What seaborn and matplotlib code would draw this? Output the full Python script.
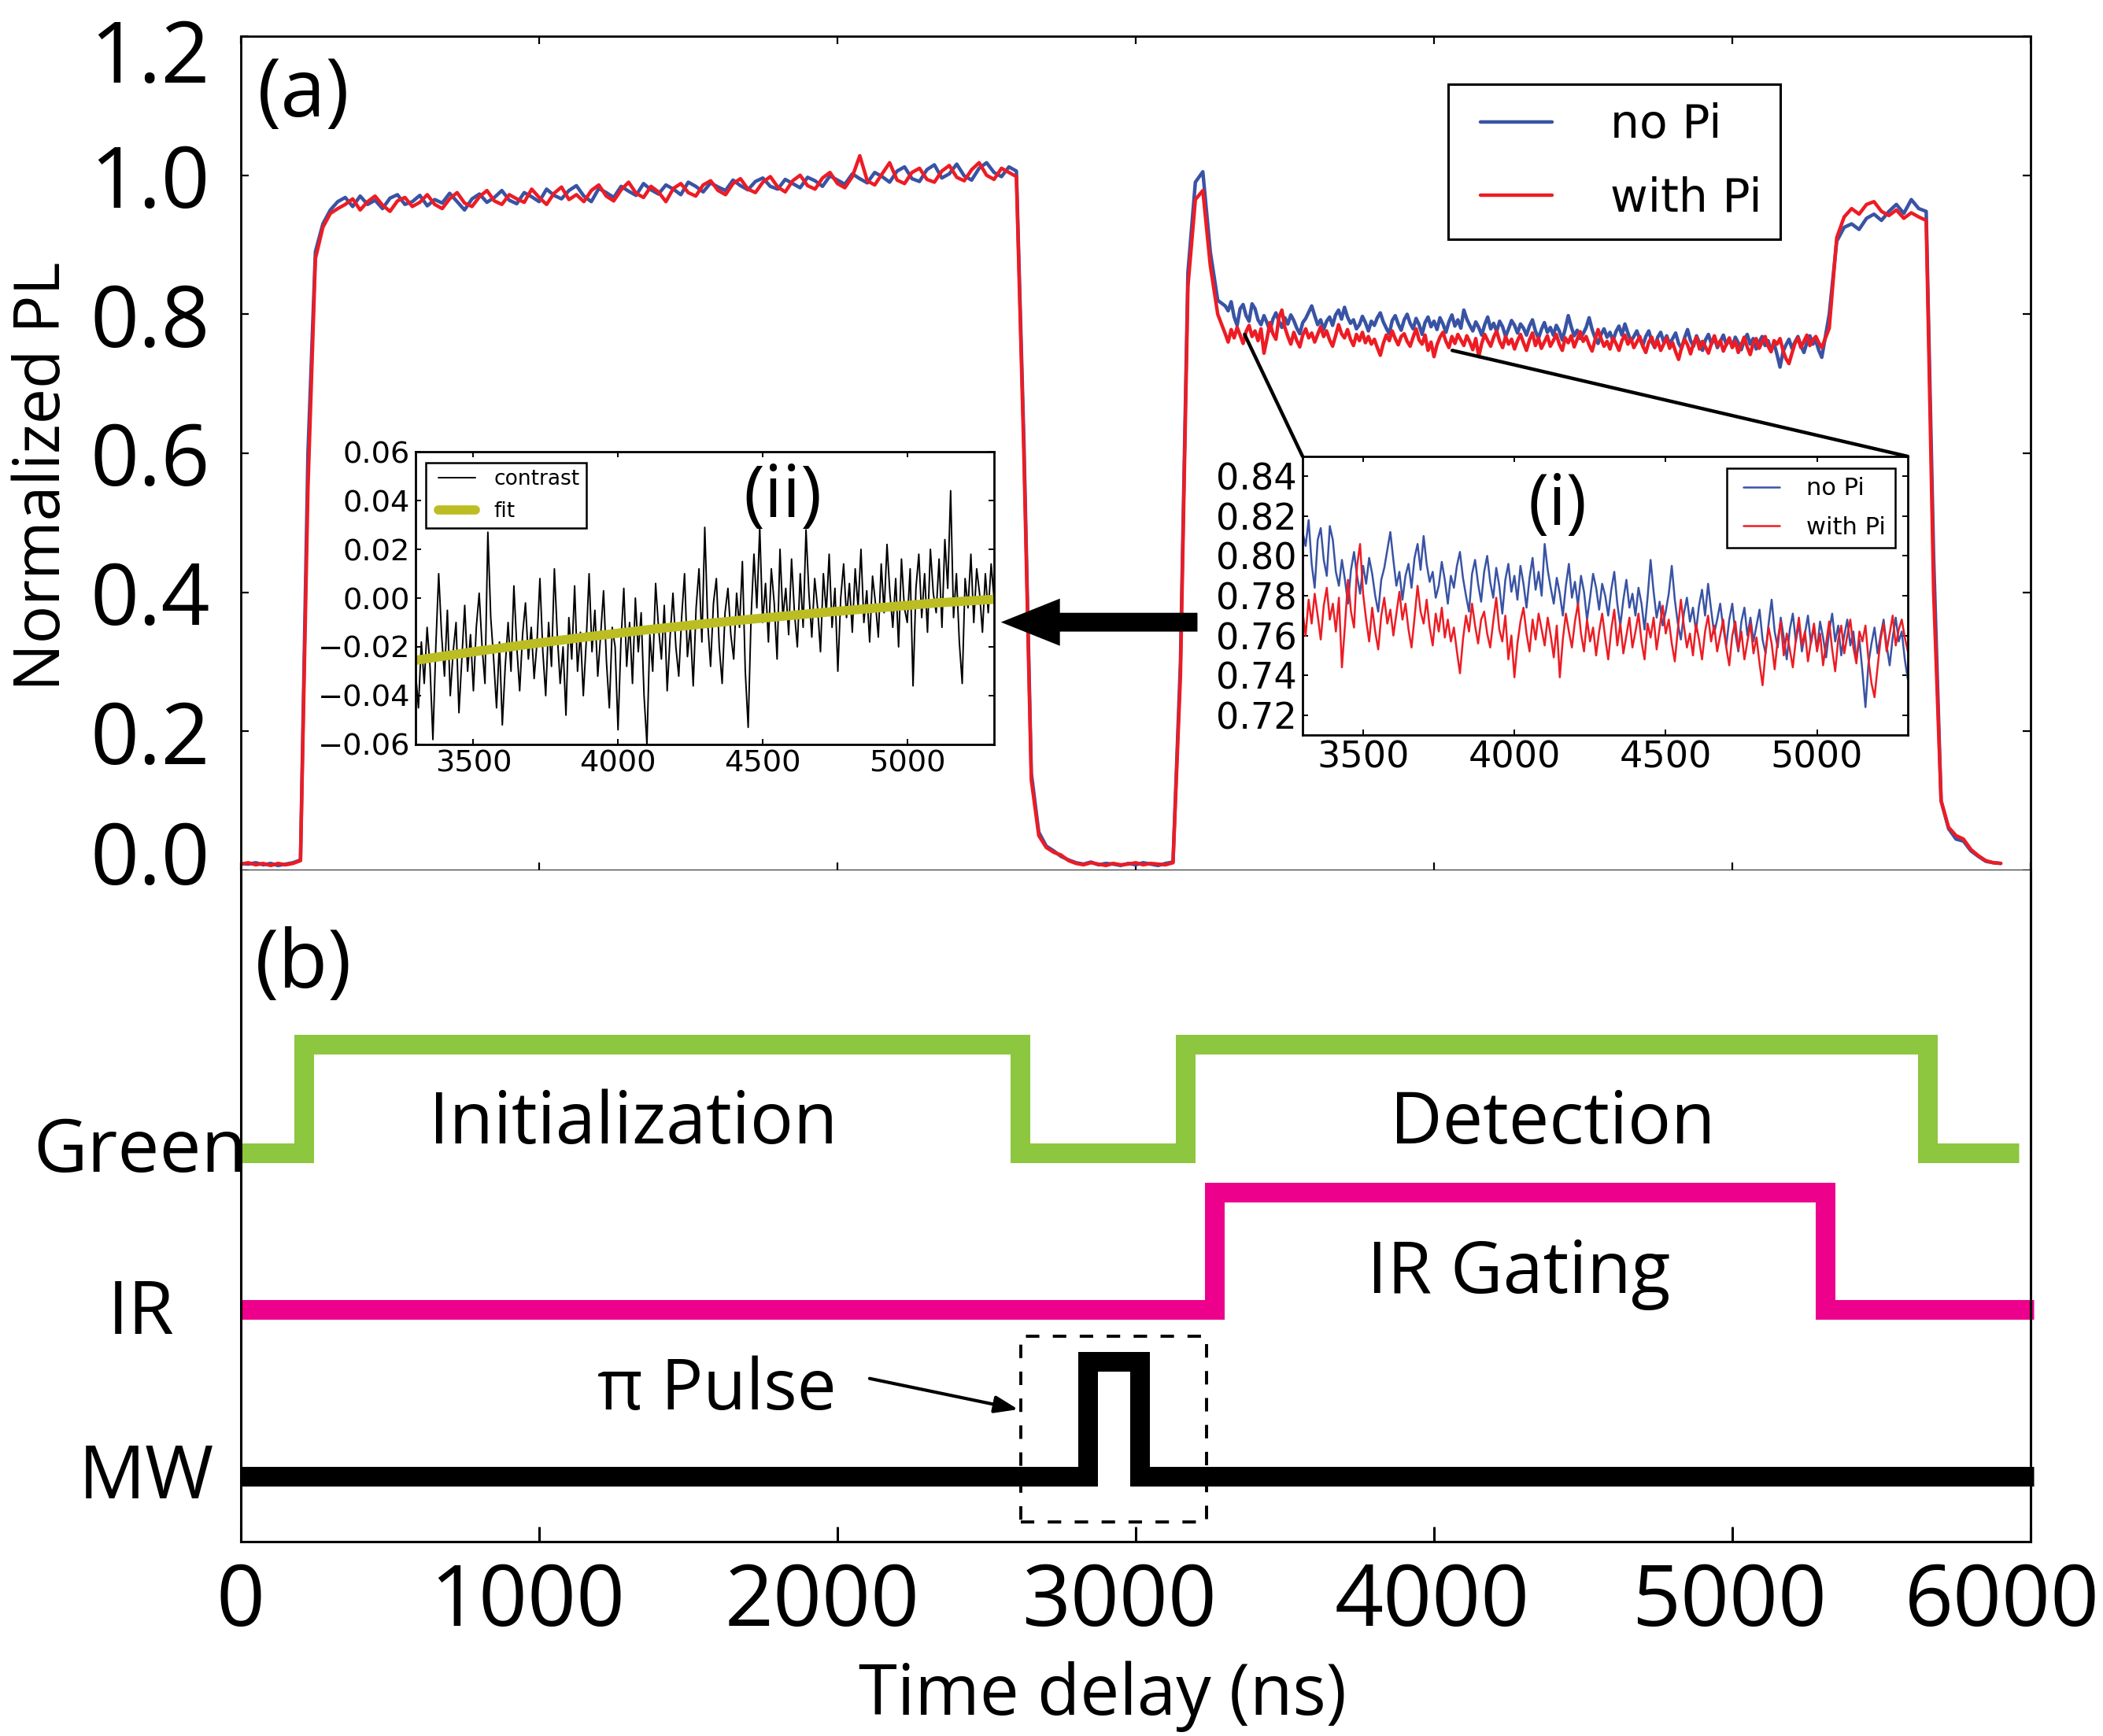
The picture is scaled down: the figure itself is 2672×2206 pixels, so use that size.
import numpy as np
import matplotlib
matplotlib.use("Agg")
import matplotlib.pyplot as plt
import matplotlib.transforms as mtransforms
from matplotlib.patches import Rectangle, ConnectionPatch
import seaborn as sns

# ---------------- data ----------------
# (a) PL traces, part 1: 0..3275 ns every 25 ns
t_start = np.arange(0, 3300, 25)
no_pi_start = [
    0.010, 0.009, 0.011, 0.008, 0.010, 0.007, 0.009, 0.011, 0.015,
    0.60, 0.89, 0.93,
    0.950, 0.962, 0.968, 0.955, 0.970, 0.958, 0.964, 0.952, 0.967, 0.972,
    0.958, 0.962, 0.971, 0.956, 0.965, 0.960, 0.974, 0.962, 0.950, 0.966,
    0.973, 0.961, 0.968, 0.978, 0.964, 0.959, 0.975, 0.969, 0.962, 0.980,
    0.971, 0.966, 0.978, 0.985, 0.970, 0.962, 0.981, 0.975, 0.968, 0.984,
    0.977, 0.971, 0.988, 0.979, 0.973, 0.986, 0.980, 0.972, 0.990, 0.984,
    0.976, 0.989, 0.983, 0.978, 0.993, 0.985, 0.979, 0.991, 0.996, 0.984,
    0.980, 0.994, 0.988, 0.982, 0.997, 0.992, 0.984, 0.999, 0.993, 0.987,
    1.002, 0.995, 0.989, 1.004, 0.998, 0.990, 1.006, 1.012, 0.995, 0.991,
    1.008, 1.015, 0.996, 1.002, 1.016, 0.999, 0.993, 1.010, 1.018, 1.004,
    0.998, 1.012, 1.006,
    0.62, 0.14, 0.055, 0.035, 0.028, 0.020, 0.015,
    0.011, 0.009, 0.012, 0.008, 0.010, 0.009, 0.007, 0.010, 0.008, 0.011,
    0.009, 0.007, 0.010, 0.012,
    0.30, 0.86, 0.99, 1.005, 0.89, 0.82,
]
with_pi_start = [
    0.009, 0.011, 0.008, 0.010, 0.007, 0.010, 0.008, 0.010, 0.014,
    0.55, 0.88, 0.925,
    0.945, 0.952, 0.958, 0.966, 0.950, 0.962, 0.970, 0.957, 0.948, 0.963,
    0.968, 0.955, 0.961, 0.972, 0.958, 0.952, 0.966, 0.975, 0.960, 0.955,
    0.969, 0.978, 0.963, 0.958, 0.972, 0.966, 0.961, 0.980, 0.968, 0.958,
    0.974, 0.983, 0.965, 0.972, 0.962, 0.978, 0.986, 0.970, 0.963, 0.979,
    0.990, 0.974, 0.968, 0.984, 0.976, 0.962, 0.981, 0.988, 0.975, 0.970,
    0.986, 0.992, 0.978, 0.972, 0.988, 0.995, 0.980, 0.975, 0.990, 0.998,
    0.983, 0.976, 0.992, 1.000, 0.985, 0.980, 0.996, 1.004, 0.988, 0.982,
    0.998, 1.028, 0.992, 0.986, 1.002, 1.018, 0.993, 0.988, 1.004, 1.010,
    0.994, 0.990, 1.006, 1.014, 0.997, 0.992, 1.008, 1.018, 1.000, 0.994,
    1.010, 1.004, 0.998,
    0.60, 0.13, 0.050, 0.033, 0.026, 0.022, 0.014,
    0.010, 0.008, 0.011, 0.009, 0.007, 0.010, 0.008, 0.009, 0.011, 0.008,
    0.010, 0.009, 0.008, 0.011,
    0.28, 0.84, 0.965, 0.978, 0.87, 0.80,
]

# detection window 3300..5300 ns every 10 ns (also shown in inset (i))
t_window = np.arange(3300, 5301, 10)
no_pi_window = [
    0.812, 0.805, 0.818, 0.796, 0.784, 0.808, 0.814, 0.798, 0.790, 0.815,
    0.808, 0.792, 0.785, 0.798, 0.788, 0.776, 0.793, 0.802, 0.790, 0.781,
    0.795, 0.786, 0.799, 0.791, 0.780, 0.772, 0.788, 0.794, 0.803, 0.812,
    0.798, 0.785, 0.792, 0.778, 0.790, 0.796, 0.784, 0.799, 0.806, 0.793,
    0.810, 0.796, 0.787, 0.792, 0.779, 0.785, 0.797, 0.788, 0.776, 0.790,
    0.784, 0.795, 0.802, 0.789, 0.780, 0.772, 0.791, 0.798, 0.786, 0.777,
    0.792, 0.800, 0.787, 0.779, 0.794, 0.785, 0.771, 0.788, 0.796, 0.782,
    0.790, 0.778, 0.795, 0.786, 0.774, 0.789, 0.799, 0.783, 0.792, 0.780,
    0.806, 0.793, 0.784, 0.776, 0.789, 0.781, 0.770, 0.785, 0.796, 0.779,
    0.787, 0.775, 0.790, 0.782, 0.768, 0.779, 0.791, 0.784, 0.773, 0.786,
    0.780, 0.770, 0.783, 0.792, 0.776, 0.765, 0.778, 0.788, 0.774, 0.781,
    0.770, 0.784, 0.776, 0.763, 0.779, 0.798, 0.782, 0.769, 0.777, 0.765,
    0.772, 0.781, 0.795, 0.778, 0.766, 0.758, 0.771, 0.779, 0.767, 0.774,
    0.762, 0.775, 0.783, 0.770, 0.786, 0.773, 0.761, 0.768, 0.776, 0.764,
    0.755, 0.768, 0.776, 0.761, 0.752, 0.767, 0.774, 0.760, 0.769, 0.757,
    0.765, 0.773, 0.758, 0.751, 0.766, 0.778, 0.762, 0.754, 0.769, 0.759,
    0.748, 0.763, 0.771, 0.757, 0.766, 0.752, 0.761, 0.770, 0.756, 0.764,
    0.753, 0.767, 0.759, 0.749, 0.762, 0.771, 0.757, 0.765, 0.750, 0.760,
    0.768, 0.755, 0.762, 0.748, 0.758, 0.742, 0.724, 0.746, 0.756, 0.764,
    0.751, 0.760, 0.768, 0.755, 0.745, 0.759, 0.769, 0.757, 0.762, 0.748,
    0.738,
]
with_pi_window = [
    0.772, 0.760, 0.778, 0.766, 0.781, 0.770, 0.758, 0.775, 0.784, 0.768,
    0.776, 0.762, 0.779, 0.744, 0.765, 0.788, 0.772, 0.764, 0.795, 0.806,
    0.781, 0.768, 0.757, 0.774, 0.762, 0.753, 0.770, 0.779, 0.766, 0.773,
    0.760, 0.771, 0.782, 0.768, 0.776, 0.763, 0.754, 0.769, 0.785, 0.772,
    0.766, 0.778, 0.764, 0.755, 0.771, 0.762, 0.774, 0.759, 0.768, 0.757,
    0.764, 0.752, 0.741, 0.758, 0.770, 0.762, 0.776, 0.765, 0.756, 0.768,
    0.772, 0.761, 0.754, 0.767, 0.779, 0.763, 0.757, 0.770, 0.748, 0.760,
    0.739, 0.756, 0.767, 0.774, 0.761, 0.752, 0.768, 0.758, 0.771, 0.763,
    0.755, 0.769, 0.760, 0.749, 0.765, 0.739, 0.758, 0.771, 0.762, 0.754,
    0.767, 0.776, 0.761, 0.752, 0.768, 0.757, 0.764, 0.750, 0.762, 0.771,
    0.759, 0.748, 0.763, 0.773, 0.755, 0.766, 0.751, 0.760, 0.769, 0.754,
    0.762, 0.771, 0.757, 0.748, 0.766, 0.759, 0.769, 0.753, 0.764, 0.775,
    0.761, 0.768, 0.756, 0.747, 0.763, 0.778, 0.765, 0.754, 0.761, 0.750,
    0.766, 0.758, 0.748, 0.762, 0.770, 0.757, 0.765, 0.752, 0.760, 0.768,
    0.754, 0.745, 0.760, 0.767, 0.753, 0.762, 0.748, 0.757, 0.766, 0.751,
    0.759, 0.746, 0.735, 0.752, 0.764, 0.756, 0.743, 0.758, 0.767, 0.750,
    0.761, 0.753, 0.744, 0.758, 0.769, 0.755, 0.762, 0.747, 0.757, 0.766,
    0.752, 0.761, 0.745, 0.756, 0.767, 0.753, 0.742, 0.758, 0.765, 0.751,
    0.760, 0.768, 0.754, 0.746, 0.762, 0.757, 0.765, 0.748, 0.736, 0.729,
    0.744, 0.758, 0.766, 0.752, 0.761, 0.770, 0.755, 0.763, 0.768, 0.759,
    0.752,
]

# part 3: 5325..5900 ns every 25 ns
t_end = np.arange(5325, 5901, 25)
no_pi_end = [0.80, 0.905, 0.925, 0.930, 0.922, 0.938, 0.944, 0.935, 0.948, 0.958,
             0.945, 0.965, 0.952, 0.948, 0.45, 0.10, 0.060, 0.045, 0.042, 0.028,
             0.020, 0.013, 0.011, 0.010]
with_pi_end = [0.78, 0.91, 0.94, 0.952, 0.944, 0.958, 0.962, 0.948, 0.942, 0.950,
               0.938, 0.946, 0.940, 0.935, 0.40, 0.10, 0.062, 0.050, 0.045, 0.030,
               0.021, 0.014, 0.011, 0.010]

# inset (ii): contrast and fit over the detection window
contrast = [
    -0.030, -0.045, -0.018, -0.035, -0.012, -0.028, -0.058, -0.020, 0.010, -0.015,
    -0.032, -0.005, -0.040, -0.022, -0.010, -0.047, -0.025, -0.003, -0.030, -0.015,
    -0.038, -0.012, 0.002, -0.020, -0.035, 0.027, -0.008, -0.025, -0.045, -0.018,
    -0.052, -0.028, -0.010, -0.030, 0.005, -0.020, -0.038, -0.015, -0.002, -0.025,
    -0.012, -0.033, -0.018, 0.008, -0.022, -0.040, -0.010, -0.028, 0.012, -0.015,
    -0.035, -0.020, -0.048, -0.008, -0.025, 0.005, -0.030, -0.014, -0.040, -0.018,
    0.010, -0.022, -0.005, -0.032, -0.015, 0.003, -0.026, -0.045, -0.012, -0.020,
    -0.054, -0.018, 0.004, -0.028, -0.010, -0.035, 0.000, -0.022, -0.006, -0.040,
    -0.060, -0.015, -0.030, 0.006, -0.012, -0.025, -0.003, -0.038, -0.016, 0.002,
    -0.020, -0.032, -0.008, 0.010, -0.024, -0.012, -0.036, -0.004, 0.012, -0.018,
    0.029, -0.010, -0.028, -0.002, 0.008, -0.020, -0.035, -0.006, 0.004, -0.015,
    -0.025, 0.002, -0.012, 0.015, -0.030, -0.053, -0.008, 0.018, -0.004, 0.029,
    -0.010, 0.006, -0.018, 0.012, -0.002, -0.025, 0.020, -0.008, 0.004, -0.015,
    0.016, -0.006, -0.020, 0.010, -0.012, 0.028, 0.002, -0.016, 0.008, -0.004,
    -0.022, 0.010, -0.006, 0.018, -0.012, 0.004, -0.030, 0.000, 0.014, -0.008,
    0.006, -0.014, 0.012, -0.004, 0.020, -0.010, 0.003, -0.018, 0.009, -0.002,
    -0.016, 0.014, -0.006, 0.022, 0.002, -0.012, 0.008, -0.020, 0.016, -0.004,
    -0.010, 0.012, -0.036, 0.004, 0.018, -0.008, 0.010, -0.014, 0.020, 0.002,
    -0.006, 0.016, -0.012, 0.024, 0.004, 0.044, -0.008, 0.010, -0.018, -0.035,
    0.008, -0.004, 0.018, -0.010, 0.012, 0.002, -0.014, 0.010, -0.006, 0.014,
    0.000,
]
fit_t = [3300, 3500, 3700, 3900, 4100, 4300, 4500, 4700, 4900, 5100, 5300]
fit_v = [-0.0255, -0.022, -0.0188, -0.0158, -0.0130, -0.0105, -0.0082, -0.0060,
         -0.0040, -0.0020, -0.0005]

# (b) pulse sequence (ns, level in panel units)
green_t = [0, 210, 2611, 3167, 5655, 5960]
green_y = [5.79, 7.41, 5.79, 7.41, 5.79, 5.79]
ir_t = [0, 3265, 5312, 6010]
ir_y = [3.46, 5.21, 3.46, 3.46]
mw_t = [0, 2838, 3012, 6010]
mw_y = [0.97, 2.69, 0.97, 0.97]
channels = ["Green", "IR", "MW"]
channel_y = [5.51, 3.09, 0.64]
channel_x = [-0.0563, -0.0558, -0.0528]

time_ticks = [0, 1000, 2000, 3000, 4000, 5000, 6000]
pl_ticks = [0.0, 0.2, 0.4, 0.6, 0.8, 1.0, 1.2]
zoom_ticks = [3500, 4000, 4500, 5000]
contrast_ticks = [-0.06, -0.04, -0.02, 0.0, 0.02, 0.04, 0.06]
window_ticks = [0.72, 0.74, 0.76, 0.78, 0.80, 0.82, 0.84]

BLUE = "#3953a4"
RED = "#ed1c24"
GREEN = "#8dc63f"
PINK = "#ec008c"
OLIVE = "#bcbd22"

t_main = np.concatenate([t_start, t_window, t_end])
no_pi_main = np.concatenate([no_pi_start, no_pi_window, no_pi_end])
with_pi_main = np.concatenate([with_pi_start, with_pi_window, with_pi_end])

# ---------------- style ----------------
sns.set_style("ticks", {"xtick.direction": "in", "ytick.direction": "in",
                        "axes.edgecolor": "black", "xtick.color": "black",
                        "ytick.color": "black", "text.color": "black"})
plt.rcParams['font.family'] = ['Open Sans', 'DejaVu Sans']
plt.rcParams['axes.linewidth'] = 1.0

fig = plt.figure(figsize=(13.36, 11.03), dpi=200)
ax_top = fig.add_axes([0.11452, 0.49864, 0.85105, 0.48051])
ax_bot = fig.add_axes([0.11452, 0.11197, 0.85105, 0.38667])

# ---------------- (a) ----------------
sns.lineplot(x=t_main, y=no_pi_main, ax=ax_top, color=BLUE, linewidth=1.6,
             sort=False, estimator=None)
sns.lineplot(x=t_main, y=with_pi_main, ax=ax_top, color=RED, linewidth=1.6,
             sort=False, estimator=None)
ax_top.set_xlim(0, 6000)
ax_top.set_ylim(0, 1.2)
ax_top.set_xticks(time_ticks)
ax_top.set_yticks(pl_ticks)
ax_top.tick_params(direction="in", length=3.6, width=0.8, top=True, right=True,
                   labelbottom=False)
ax_top.tick_params(axis="y", labelsize=39, pad=14)
ax_top.set_xlabel("")
ax_top.set_ylabel("")

lines = ax_top.get_lines()
leg = ax_top.legend(lines[:2], ["no Pi", "with Pi"], loc="upper right",
                    bbox_to_anchor=(0.8602, 0.9425), borderaxespad=0,
                    prop={"family": "DejaVu Sans", "size": 21}, numpoints=2,
                    handlelength=2.16, handletextpad=0.97, labelspacing=0.62,
                    borderpad=0.4, fancybox=False, framealpha=1)
leg.get_frame().set_edgecolor("black")
leg.get_frame().set_linewidth(1.1)

ax_top.text(0.0092, 0.9038, "(a)", transform=ax_top.transAxes, fontsize=37,
            ha="left", va="baseline")

# arrow pointing from inset (i) to inset (ii)
ax_top.annotate("", xy=(2548, 0.357), xytext=(3207, 0.357),
                arrowprops=dict(arrowstyle="simple,head_length=27,head_width=21.6,tail_width=8.6",
                                mutation_scale=1, color="black", lw=0,
                                shrinkA=0, shrinkB=0))

# inset (ii): contrast
ax_ii = fig.add_axes([0.19760, 0.57117, 0.27507, 0.16863])
sns.lineplot(x=t_window, y=contrast, ax=ax_ii, color="black", linewidth=0.7,
             sort=False, estimator=None, label="contrast")
sns.lineplot(x=fit_t, y=fit_v, ax=ax_ii, color=OLIVE, linewidth=4.2,
             sort=False, estimator=None, label="fit")
ax_ii.set_xlim(3300, 5300)
ax_ii.set_ylim(-0.06, 0.06)
ax_ii.set_xticks(zoom_ticks)
ax_ii.set_yticks(contrast_ticks)
ax_ii.tick_params(direction="in", length=2.5, width=0.7, top=True, right=True,
                  labelsize=13.8, pad=2.5, labelfontfamily="DejaVu Sans")
ax_ii.set_xlabel("")
ax_ii.set_ylabel("")
leg2 = ax_ii.legend(loc="upper left", bbox_to_anchor=(0.0177, 0.962),
                    borderaxespad=0, prop={"family": "DejaVu Sans", "size": 9.5},
                    numpoints=2, handlelength=2.4, handletextpad=0.6,
                    labelspacing=0.58, borderpad=0.29, fancybox=False, framealpha=1)
leg2.get_frame().set_edgecolor("black")
leg2.get_frame().set_linewidth(0.9)
ax_ii.text(0.635, 0.777, "(ii)", transform=ax_ii.transAxes, fontsize=33,
           ha="center", va="baseline")

# inset (i): zoom of detection window
ax_i = fig.add_axes([0.61939, 0.57661, 0.28780, 0.16047])
sns.lineplot(x=t_window, y=no_pi_window, ax=ax_i, color=BLUE, linewidth=0.9,
             sort=False, estimator=None, label="no Pi")
sns.lineplot(x=t_window, y=with_pi_window, ax=ax_i, color=RED, linewidth=0.9,
             sort=False, estimator=None, label="with Pi")
ax_i.set_xlim(3300, 5300)
ax_i.set_ylim(0.71, 0.85)
ax_i.set_xticks(zoom_ticks)
ax_i.set_yticks(window_ticks)
ax_i.tick_params(direction="in", length=2.5, width=0.7, top=True, right=True,
                 labelsize=16.6, pad=2.5, labelfontfamily="DejaVu Sans")
ax_i.set_xlabel("")
ax_i.set_ylabel("")
leg3 = ax_i.legend(loc="upper right", bbox_to_anchor=(0.979, 0.958),
                   borderaxespad=0, prop={"family": "DejaVu Sans", "size": 11},
                   numpoints=2, handlelength=2.1, handletextpad=0.84,
                   labelspacing=0.66, borderpad=0.38, fancybox=False, framealpha=1)
leg3.get_frame().set_edgecolor("black")
leg3.get_frame().set_linewidth(0.9)
ax_i.text(0.421, 0.754, "(i)", transform=ax_i.transAxes, fontsize=32,
          ha="center", va="baseline")
for ax in (ax_i, ax_ii):
    for s in ax.spines.values():
        s.set_linewidth(1.0)

# zoom connectors from the trace to inset (i)
for xy_a, xy_b in [((3365, 0.771), (0, 1)), ((4061, 0.748), (1, 1))]:
    con = ConnectionPatch(xyA=xy_a, coordsA=ax_top.transData, xyB=xy_b,
                          coordsB=ax_i.transAxes, color="black", lw=1.6)
    fig.add_artist(con)

# ---------------- (b) ----------------
step_kw = dict(drawstyle="steps-post", linewidth=9, solid_joinstyle="miter",
               solid_capstyle="butt", clip_on=False)
ax_bot.plot(green_t, green_y, color=GREEN, **step_kw)
ax_bot.plot(ir_t, ir_y, color=PINK, **step_kw)
ax_bot.plot(mw_t, mw_y, color="black", **step_kw)
ax_bot.set_xlim(0, 6000)
ax_bot.set_ylim(0, 10)
ax_bot.set_yticks([])
ax_bot.set_xticks(time_ticks)
ax_bot.tick_params(axis="x", direction="in", length=7, width=1.1, labelsize=39,
                   pad=9, top=False)
ax_bot.spines["top"].set_visible(False)
for s in ("left", "right", "bottom"):
    ax_bot.spines[s].set_linewidth(1.1)

trans_lab = mtransforms.blended_transform_factory(ax_bot.transAxes, ax_bot.transData)
for name, yy, xx in zip(channels, channel_y, channel_x):
    ax_bot.text(xx, yy, name, transform=trans_lab, fontsize=34, ha="center",
                va="baseline")

ax_bot.text(1315, 5.93, "Initialization", fontsize=33, ha="center", va="baseline")
ax_bot.text(4398, 5.93, "Detection", fontsize=33, ha="center", va="baseline")
ax_bot.text(4285, 3.70, "IR Gating", fontsize=33, ha="center", va="baseline")
ax_bot.text(1597, 1.97, "π Pulse", fontsize=32, ha="center", va="baseline")
ax_bot.text(0.0079, 0.825, "(b)", transform=ax_bot.transAxes, fontsize=37,
            ha="left", va="baseline")

ax_bot.add_patch(Rectangle((2614, 0.29), 624, 2.77, fill=False, edgecolor="black",
                           linewidth=1.4, linestyle=(0, (4.4, 4.4))))
ax_bot.annotate("", xy=(2606, 1.97), xytext=(2108, 2.43),
                arrowprops=dict(arrowstyle="-|>,head_length=9,head_width=3.3",
                                mutation_scale=1, lw=1.5, color="black",
                                shrinkA=0, shrinkB=0))

fig.text(0.5243, 0.0122, "Time delay (ns)", fontsize=32, ha="center", va="baseline")
fig.text(0.0206, 0.7257, "Normalized PL", fontsize=29, rotation=90,
         ha="center", va="center")

# nudge tick labels as placed in the original
ylabs = ax_top.get_yticklabels()
ylabs[-1].set_transform(ylabs[-1].get_transform() +
                        mtransforms.ScaledTranslation(0, -18 / 200, fig.dpi_scale_trans))
ylabs[0].set_transform(ylabs[0].get_transform() +
                       mtransforms.ScaledTranslation(0, 23 / 200, fig.dpi_scale_trans))
x_nudge_px = [0, -15, -19, -21, -2, -4, -36]
for lab, dx in zip(ax_bot.get_xticklabels(), x_nudge_px):
    lab.set_transform(lab.get_transform() +
                      mtransforms.ScaledTranslation(dx / 200, 0, fig.dpi_scale_trans))

fig.savefig("out.png", dpi=200)
